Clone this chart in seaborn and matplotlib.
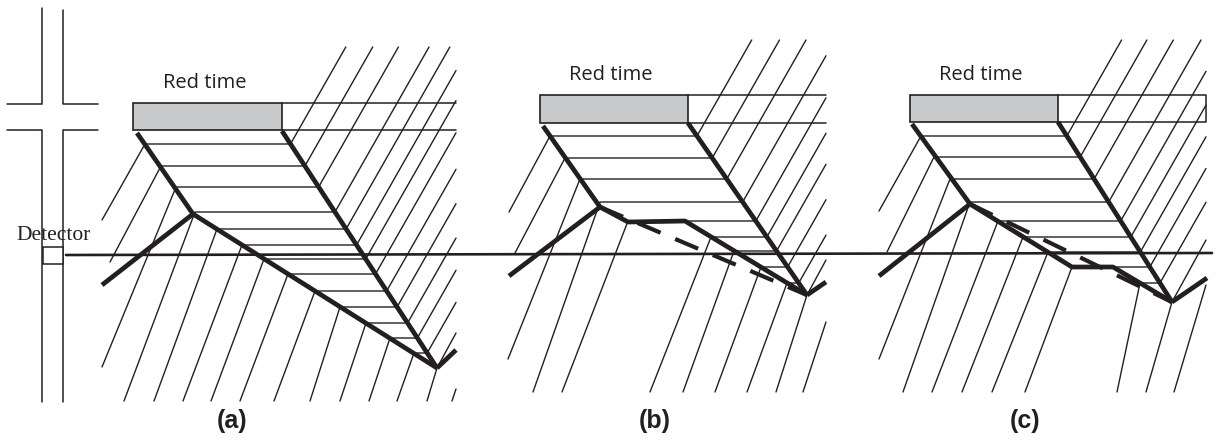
import numpy as np
import pandas as pd
import matplotlib.pyplot as plt
import seaborn as sns
from matplotlib.patches import Rectangle

# -------------------------------------------------------------
# time-space diagram of a signal cycle, three scenarios (a) (b) (c)
# all positions are in picture pixels, y grows downward
# -------------------------------------------------------------

panel_labels = ['(a)', '(b)', '(c)']
label_x = [232, 655, 1025]
label_y = 421

# red / green time bar
box_x = [133, 540, 910]
box_y = [103, 95, 95]
box_w = [149, 148, 148]
box_h = [27, 28, 27]
box_end = [456, 826, 1206]
box_closed = [False, False, True]

# where the thin trajectories stop (top of drawing, right border of panel)
top_y = [47, 40, 40]
right_x = [456, 826, 1206]

# thick shock waves
queue_wave = [[(137, 133), (193, 214)], [(543, 126), (600, 207)], [(912, 124), (970, 204)]]
arrive_wave = [[(102, 285), (193, 214)], [(509, 276), (600, 207)], [(879, 276), (970, 204)]]
lower_wave = [[(193, 214), (437, 368)],
              [(600, 207), (628, 222), (685, 221), (807, 295)],
              [(970, 204), (1072, 267), (1113, 267), (1172, 302)]]
discharge_wave = [[(282, 131), (437, 368)], [(688, 123), (807, 295)], [(1058, 122), (1172, 302)]]
after_wave = [[(437, 368), (456, 350)], [(807, 295), (826, 282)], [(1172, 302), (1207, 278)]]
dashed_wave = [None, [(600, 207), (807, 295)], [(970, 204), (1172, 302)]]

# vehicles: arrival start, stop level and where the stop begins
start_x = [[102, 110, 102, 124, 154, 183, 211, 240, 274, 310, 340, 369, 397],
           [509, 515, 508, 533, 562, 650, 683, 715, 747],
           [879, 887, 879, 903, 932, 962, 992, 1025, 1117]]
start_y = [[220, 262, 367] + [401] * 10,
           [212, 253, 359] + [392] * 6,
           [211, 252, 359] + [392] * 6]
stop_y = [[144, 166, 187, 212, 229, 245, 259, 274, 291, 307, 323, 338, 353],
          [136, 158, 179, 202, 221, 237, 251, 267, 283],
          [136, 157, 179, 202, 221, 237, 252, 267, 283]]
stop_x = [[145, 161, 176, 195, 217, 242, 264, 288, 315, 340, 366, 390, 414],
          [550, 565, 580, 600, 628, 711, 734, 761, 787],
          [921, 934, 950, 970, 998, 1023, 1048, 1072, 1140]]
# vehicles that pass without stopping
pass_lines = [[[(427, 401), (437, 368), (456, 333)], [(452, 401), (456, 389)]],
              [[(776, 392), (807, 295), (826, 260)], [(803, 392), (826, 322)]],
              [[(1146, 392), (1172, 302), (1206, 240)], [(1174, 392), (1206, 285)]]]
dep_slope = 0.57  # dx per dy of the departing vehicles

# road and detector (left of panel a)
road_lines = [[(42, 8), (42, 104), (7, 104)], [(63, 10), (63, 104), (98, 104)],
              [(7, 130), (42, 130), (42, 402)], [(98, 130), (63, 130), (63, 402)]]
detector_line = [(66, 255), (1212, 253)]

INK = '#231f20'


def to_frame(polylines):
    rows = []
    for i, pl in enumerate(polylines):
        for j, (x, y) in enumerate(pl):
            rows.append((i, j, x, y))
    return pd.DataFrame(rows, columns=['seg', 'order', 'x', 'y'])


def draw(ax, polylines, lw, **kw):
    sns.lineplot(data=to_frame(polylines), x='x', y='y', units='seg', estimator=None,
                 sort=False, color=INK, linewidth=lw, legend=False, ax=ax, **kw)


sns.set_theme(style='white')
plt.rcParams['font.family'] = ['DejaVu Sans']

fig = plt.figure(figsize=(12.18, 4.42), dpi=100)
ax = fig.add_axes([0, 0, 1, 1])

thin, thick, dashed, frame = [], [], [], []
for p in range(3):
    # vehicle trajectories: approach -> stopped -> departure
    dx_, dy_ = zip(*discharge_wave[p])
    for sx, sy, ys, xs in zip(start_x[p], start_y[p], stop_y[p], stop_x[p]):
        xd = np.interp(ys, dy_, dx_)
        xt = xd + dep_slope * (ys - top_y[p])
        yt = top_y[p]
        if xt > right_x[p]:
            xt = right_x[p]
            yt = ys - (right_x[p] - xd) / dep_slope
        thin.append([(sx, sy), (xs, ys), (xd, ys), (xt, yt)])
    thin.extend(pass_lines[p])

    thick += [queue_wave[p], arrive_wave[p], lower_wave[p], discharge_wave[p], after_wave[p]]
    if dashed_wave[p] is not None:
        dashed.append(dashed_wave[p])

    # green part of the signal bar
    x1 = box_x[p] + box_w[p]
    y0, y1 = box_y[p], box_y[p] + box_h[p]
    if box_closed[p]:
        frame.append([(x1, y0), (box_end[p], y0), (box_end[p], y1), (x1, y1)])
    else:
        frame += [[(x1, y0), (box_end[p], y0)], [(x1, y1), (box_end[p], y1)]]

draw(ax, thin, 1.0)
draw(ax, road_lines, 1.1)
draw(ax, frame, 1.1)
draw(ax, [detector_line], 1.9)
draw(ax, thick, 3.4, solid_capstyle='butt')
draw(ax, dashed, 3.0, linestyle=(0, (6, 3.8)))

for p in range(3):
    ax.add_patch(Rectangle((box_x[p], box_y[p]), box_w[p], box_h[p], facecolor='#c8c9cb',
                           edgecolor=INK, linewidth=1.2, zorder=3))
    ax.text(box_x[p] + box_w[p] / 2 - 3, box_y[p] - 20, 'Red time', ha='center', va='center',
            fontsize=14.5, family='Open Sans', color=INK)
    ax.text(label_x[p], label_y, panel_labels[p], ha='center', va='center',
            fontsize=18, fontweight='bold', family='Liberation Sans', color=INK)

ax.add_patch(Rectangle((43, 247), 20, 17, facecolor='white', edgecolor=INK, linewidth=1.1, zorder=3))
ax.text(54, 235, 'Detector', ha='center', va='center', fontsize=15.5,
        family='Liberation Serif', color=INK)

ax.set_xlim(0, 1218)
ax.set_ylim(442, 0)
ax.axis('off')
fig.savefig('out.png', dpi=100)
